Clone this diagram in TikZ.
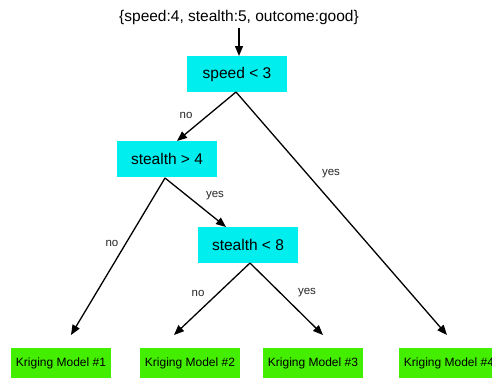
\documentclass[tikz,border=0pt]{standalone}
\usepackage{fontspec}
\setmainfont{Liberation Sans}
\usetikzlibrary{arrows.meta}
\definecolor{boxcyan}{RGB}{0,238,238}
\definecolor{boxgreen}{RGB}{68,238,0}
\tikzset{
  test/.style={fill=boxcyan, minimum width=100pt, minimum height=36pt, inner sep=0pt, font=\fontsize{15.5}{18}\selectfont},
  leaf/.style={fill=boxgreen, minimum width=100pt, minimum height=30pt, inner sep=0pt, font=\fontsize{12}{14}\selectfont},
  lbl/.style={font=\fontsize{11.5}{13}\selectfont, text=black!85, inner sep=0pt},
  arr/.style={line width=1.3pt, -{Triangle[length=10pt,width=8pt]}}
}
\begin{document}
\begin{tikzpicture}[x=1pt,y=-1pt]
\useasboundingbox (0,0) rectangle (492,378);
\clip (0,0) rectangle (492,378);
\fill[white] (0,0) rectangle (492,378);
\node[font=\fontsize{15.5}{18}\selectfont, inner sep=0pt] (inp) at (239,17) {\{speed:4, stealth:5, outcome:good\}};
\node[test] (s3) at (237,74) {speed < 3};
\node[test] (st4) at (167,159) {stealth > 4};
\node[test] (st8) at (248,245) {stealth < 8};
\node[leaf] (k1) at (61,363) {Kriging Model \#1};
\node[leaf] (k2) at (190,363) {Kriging Model \#2};
\node[leaf] (k3) at (313,363) {Kriging Model \#3};
\node[leaf] (k4) at (449,363) {Kriging Model \#4};
\coordinate (a0s) at (239,28);
\coordinate (a0e) at (239,56);
\coordinate (b1) at (236,92);
\coordinate (b2) at (165,178);
\coordinate (b3) at (250,263);
\coordinate (t1) at (177,141);
\coordinate (t4) at (447,335);
\coordinate (tk1) at (71,335);
\coordinate (t8) at (226,227);
\coordinate (tk2) at (174,335);
\coordinate (tk3) at (323,335);
\draw[arr] (a0s) -- (a0e);
\draw[arr] (b1) -- (t1);
\draw[arr] (b1) -- (t4);
\draw[arr] (b2) -- (tk1);
\draw[arr] (b2) -- (t8);
\draw[arr] (b3) -- (tk2);
\draw[arr] (b3) -- (tk3);
\node[lbl] (l1) at (186,115) {no};
\node[lbl] (l2) at (331,174) {yes};
\node[lbl] (l3) at (112,243) {no};
\node[lbl] (l4) at (215,196) {yes};
\node[lbl] (l5) at (198,293) {no};
\node[lbl] (l6) at (307,293) {yes};
\end{tikzpicture}
\end{document}
